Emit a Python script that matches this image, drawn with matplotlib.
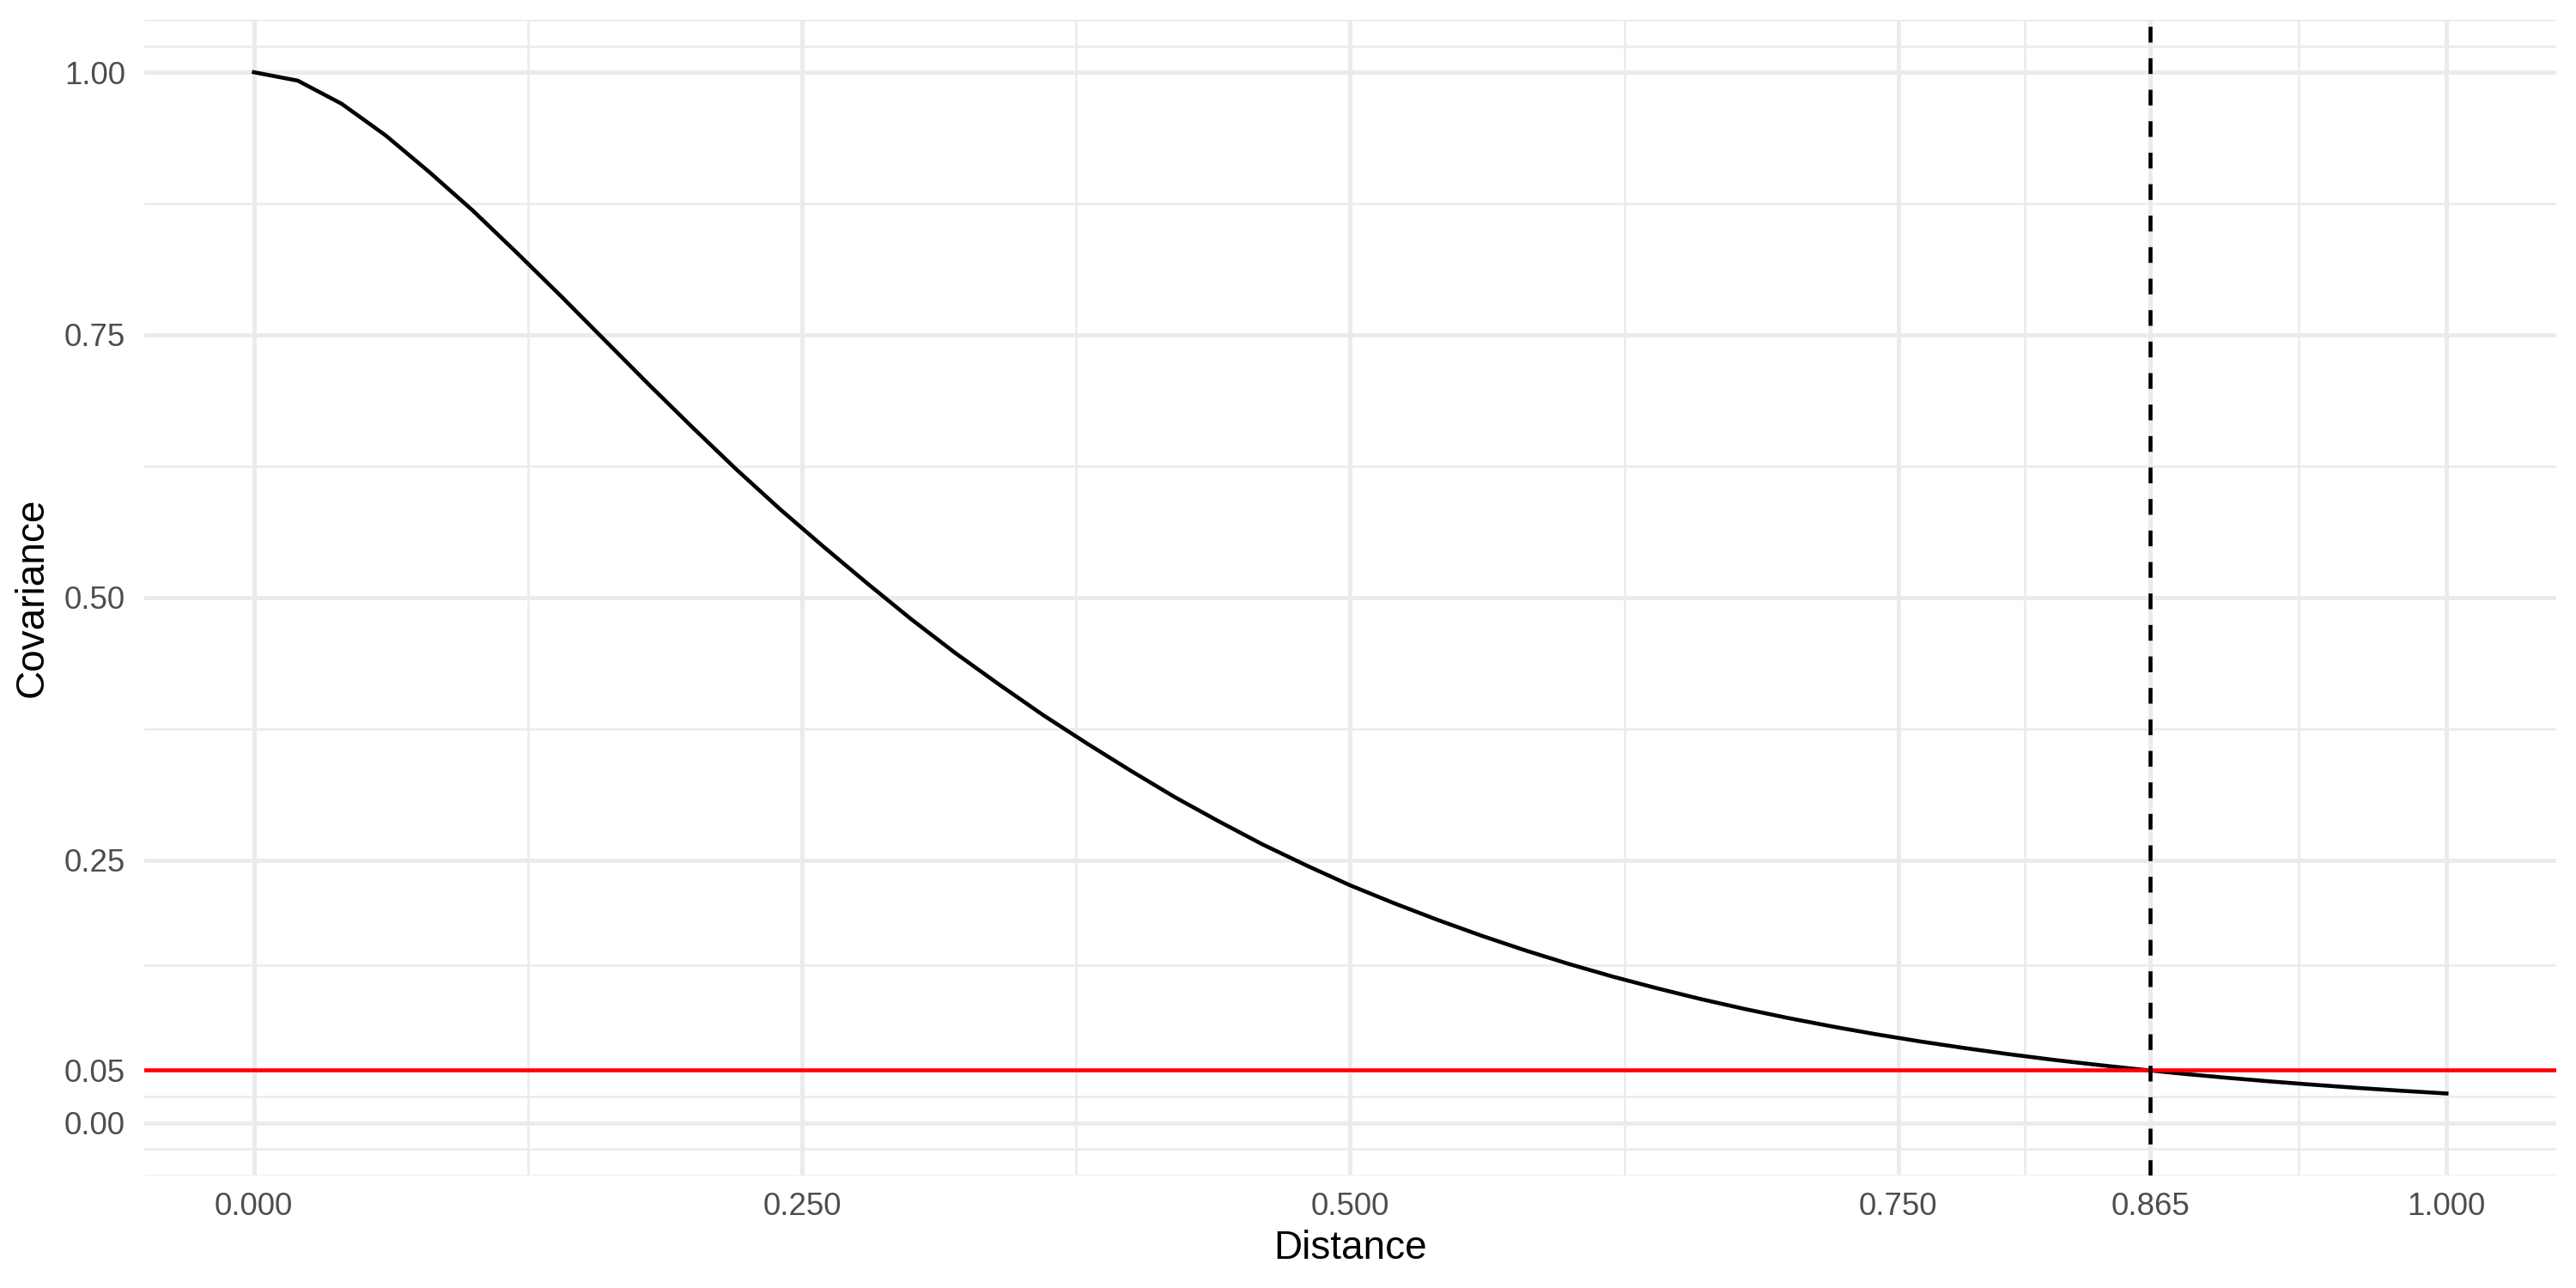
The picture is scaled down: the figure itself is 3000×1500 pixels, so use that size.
import matplotlib
matplotlib.use("Agg")
import matplotlib.pyplot as plt
from matplotlib.ticker import FixedLocator

plt.rcParams['font.family'] = ['Liberation Sans', 'DejaVu Sans']

# ---- data ----
distance = [0.00, 0.02, 0.04, 0.06, 0.08, 0.10, 0.12, 0.14, 0.16, 0.18,
            0.20, 0.22, 0.24, 0.26, 0.28, 0.30, 0.32, 0.34, 0.36, 0.38,
            0.40, 0.42, 0.44, 0.46, 0.48, 0.50, 0.52, 0.54, 0.56, 0.58,
            0.60, 0.62, 0.64, 0.66, 0.68, 0.70, 0.72, 0.74, 0.76, 0.78,
            0.80, 0.82, 0.84, 0.86, 0.88, 0.90, 0.92, 0.94, 0.96, 0.98,
            1.00]
covariance = [1.000, 0.992, 0.970, 0.940, 0.905, 0.868, 0.828, 0.787, 0.745, 0.703,
              0.662, 0.622, 0.584, 0.548, 0.513, 0.479, 0.447, 0.417, 0.388, 0.361,
              0.335, 0.310, 0.287, 0.265, 0.245, 0.226, 0.209, 0.193, 0.178, 0.164,
              0.151, 0.139, 0.128, 0.1177, 0.1083, 0.0996, 0.0916, 0.0842, 0.0774, 0.0712,
              0.0654, 0.0601, 0.0553, 0.0508, 0.0466, 0.0428, 0.0393, 0.0361, 0.0331, 0.0304,
              0.0279]
threshold = 0.05
cutoff_distance = 0.865

x_ticks = [0.0, 0.25, 0.5, 0.75, 0.865, 1.0]
x_ticklabels = ["0.000", "0.250", "0.500", "0.750", "0.865", "1.000"]
x_minor = [0.125, 0.375, 0.625, 0.8075, 0.9325]
y_ticks = [0.0, 0.05, 0.25, 0.5, 0.75, 1.0]
y_ticklabels = ["0.00", "0.05", "0.25", "0.50", "0.75", "1.00"]
y_minor = [-0.05, -0.025, 0.025, 0.15, 0.375, 0.625, 0.875, 1.025, 1.05]

# ---- figure ----
fig = plt.figure(figsize=(10, 5), dpi=300)
ax = fig.add_axes([0.056, 0.0875, 0.9363, 0.8972])

grid_col = "#EBEBEB"
ax.set_xlim(-0.05, 1.05)
ax.set_ylim(-0.05, 1.05)
for s in ax.spines.values():
    s.set_visible(False)

ax.xaxis.set_major_locator(FixedLocator(x_ticks))
ax.set_xticklabels(x_ticklabels)
ax.xaxis.set_minor_locator(FixedLocator(x_minor))
ax.yaxis.set_major_locator(FixedLocator(y_ticks))
ax.set_yticklabels(y_ticklabels)
ax.yaxis.set_minor_locator(FixedLocator(y_minor))

ax.grid(which="major", color=grid_col, linewidth=1.2)
ax.grid(which="minor", color=grid_col, linewidth=0.6)
ax.set_axisbelow(True)

ax.tick_params(which="both", length=0)
ax.tick_params(axis="x", which="major", pad=4.6, labelsize=8.8, labelcolor="#4D4D4D")
ax.tick_params(axis="y", which="major", pad=5.3, labelsize=8.8, labelcolor="#4D4D4D")

ax.plot(distance, covariance, color="black", linewidth=1.1, zorder=3)
ax.axhline(threshold, color="#FF0000", linewidth=1.1, zorder=4)
ax.axvline(cutoff_distance, color="black", linewidth=1.1, dashes=(4.0, 4.0), zorder=5)

ax.set_xlabel("Distance", fontsize=11, color="black")
ax.set_ylabel("Covariance", fontsize=11, color="black")
ax.xaxis.label.set_va("center")
ax.yaxis.label.set_va("center")
ax.xaxis.set_label_coords(0.5, -0.0634)
ax.yaxis.set_label_coords(-0.0463, 0.5)

fig.savefig("out.png", dpi=300, facecolor="white")
